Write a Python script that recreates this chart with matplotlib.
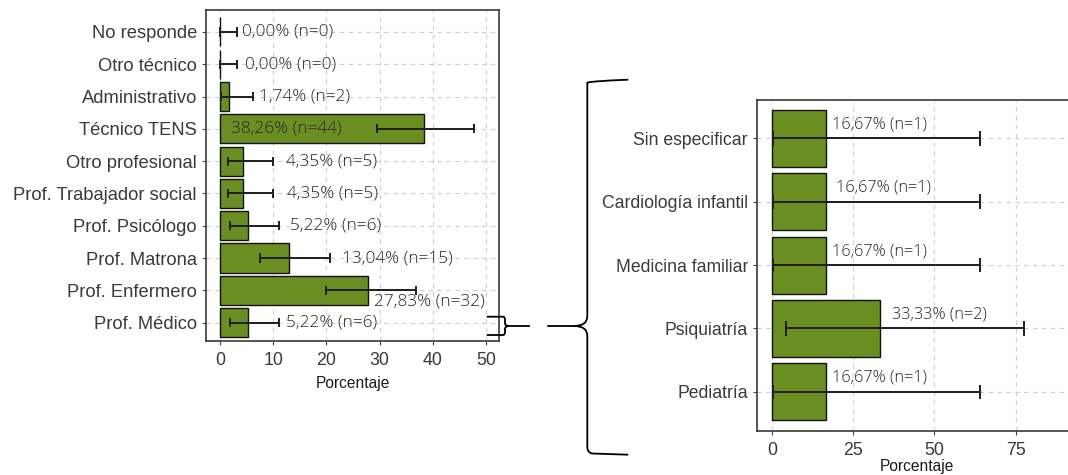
import matplotlib
matplotlib.use('Agg')
import matplotlib.pyplot as plt
from matplotlib.path import Path
from matplotlib.patches import PathPatch
import numpy as np

# datos panel izquierdo (estamento)
left_cats = ['No responde', 'Otro técnico', 'Administrativo', 'Técnico TENS',
             'Otro profesional', 'Prof. Trabajador social', 'Prof. Psicólogo',
             'Prof. Matrona', 'Prof. Enfermero', 'Prof. Médico']
left_pct = [0.00, 0.00, 1.74, 38.26, 4.35, 4.35, 5.22, 13.04, 27.83, 5.22]
left_n = [0, 0, 2, 44, 5, 5, 6, 15, 32, 6]
left_lo = [0.0, 0.0, 0.21, 29.4, 1.43, 1.43, 1.94, 7.5, 19.9, 1.94]
left_hi = [3.16, 3.16, 6.14, 47.7, 9.87, 9.87, 11.0, 20.6, 36.8, 11.0]

# datos panel derecho (especialidad de Prof. Médico)
right_cats = ['Sin especificar', 'Cardiología infantil', 'Medicina familiar',
              'Psiquiatría', 'Pediatría']
right_pct = [16.67, 16.67, 16.67, 33.33, 16.67]
right_n = [1, 1, 1, 2, 1]
right_lo = [0.42, 0.42, 0.42, 4.33, 0.42]
right_hi = [64.1, 64.1, 64.1, 77.7, 64.1]

GREEN = '#6b8e23'
TXT = '#3a3a3a'
LAB = '#262626'
W, H = 1068, 475


def fmt(p, n):
    return f"{p:.2f}".replace('.', ',') + f"% (n={n})"


def px_axes(fig, x0, x1, ytop, ybot):
    return fig.add_axes([x0 / W, (H - ybot) / H, (x1 - x0) / W, (ybot - ytop) / H])


def draw_panel(ax, cats, pct, lo, hi, cap, xlim, ylim, xticks, lab_size):
    y = np.arange(len(cats))[::-1]
    ax.set_axisbelow(True)
    ax.barh(y, pct, height=0.9, color=GREEN, edgecolor='#111111', linewidth=1.0, zorder=2)
    for yi, a, b in zip(y, lo, hi):
        ax.plot([a, b], [yi, yi], color='#1e1e1e', lw=1.4, zorder=3, solid_capstyle='butt')
        ax.plot([a, a], [yi - cap, yi + cap], color='#1e1e1e', lw=1.4, zorder=3)
        ax.plot([b, b], [yi - cap, yi + cap], color='#1e1e1e', lw=1.4, zorder=3)
    ax.set_yticks(y)
    ax.set_yticklabels(cats, fontsize=lab_size, color=TXT, family='Liberation Sans')
    ax.set_xticks(xticks)
    ax.set_xticklabels([str(t) for t in xticks], fontsize=12.8, color=TXT, family='Liberation Sans')
    ax.set_xlim(*xlim)
    ax.set_ylim(*ylim)
    ax.grid(True, color='#cfcfcf', linestyle=(0, (4, 4)), linewidth=0.8)
    ax.tick_params(length=3, width=0.8, color='#444444')
    ax.tick_params(axis='x', pad=5)
    for s in ax.spines.values():
        s.set_color('#3a3a3a')
        s.set_linewidth(1.2)
    ax.set_xlabel('Porcentaje', fontsize=11.2, color='#1a1a1a', family='Liberation Sans')
    return y


fig = plt.figure(figsize=(W / 100, H / 100), dpi=100)

# panel izquierdo
axL = px_axes(fig, 206, 499, 10, 341)
yL = draw_panel(axL, left_cats, left_pct, left_lo, left_hi, 0.11,
                (-2.63, 52.4), (-0.57, 9.68), [0, 10, 20, 30, 40, 50], 13.2)
axL.xaxis.labelpad = 5
left_nudge = [1.0, 1.6, 1.1, 0, 2.5, 2.8, 2.2, 2.3, 0, 1.4]
for i, (yi, p, n, h) in enumerate(zip(yL, left_pct, left_n, left_hi)):
    x, dy = h + left_nudge[i], 0
    if left_cats[i] == 'Técnico TENS':
        x = 2.0
    if left_cats[i] == 'Prof. Enfermero':
        x, dy = p + 1.1, -0.36
    axL.text(x, yi + dy, fmt(p, n), fontsize=12.4, color=LAB, family='Open Sans',
             fontweight='light', va='center', ha='left', zorder=4)

# panel derecho
axR = px_axes(fig, 757, 1077, 99.5, 430.6)
yR = draw_panel(axR, right_cats, right_pct, right_lo, right_hi, 0.1,
                (-4.6, 93.9), (-0.61, 4.61), [0, 25, 50, 75], 12.7)
axR.xaxis.labelpad = 0
right_nudge = [1.8, 2.9, 1.8, 3.6, 1.8]
for i, (yi, p, n) in enumerate(zip(yR, right_pct, right_n)):
    axR.text(p + right_nudge[i], yi + 0.22, fmt(p, n), fontsize=11.7, color=LAB,
             family='Open Sans', fontweight='light', va='center', ha='left', zorder=4)

# llaves de conexión, en píxeles de la figura
ov = fig.add_axes([0, 0, 1, 1], zorder=10)
ov.set_xlim(0, W)
ov.set_ylim(H, 0)
ov.axis('off')
ov.patch.set_alpha(0)

M, L, C = Path.MOVETO, Path.LINETO, Path.CURVE3
small = [(486.7, 316.7), (503, 316.7), (505, 316.7), (505, 319.5), (505, 323),
         (505, 326), (509, 326),
         (505, 326), (505, 329), (505, 332.2), (505, 335), (503, 335), (486.7, 335)]
small_codes = [M, L, C, C, L, C, C, C, C, L, C, C, L]
ov.add_patch(PathPatch(Path(small, small_codes), fill=False, lw=1.3, edgecolor='black'))
ov.plot([509, 529.3], [326, 326], color='black', lw=1.3)

big = [(628.3, 79.7), (592, 81), (587.3, 82.7), (587.3, 88), (587.3, 316),
       (587.3, 326), (574, 326), (547.3, 326),
       (574, 326), (587.3, 326), (587.3, 336), (587.3, 447),
       (587.3, 452.3), (592, 453.5), (628.3, 454.7)]
big_codes = [M, C, C, L, L, C, C, L, M, C, C, L, C, C, L]
ov.add_patch(PathPatch(Path(big, big_codes), fill=False, lw=1.3, edgecolor='black'))

fig.savefig('out.png', dpi=100)
